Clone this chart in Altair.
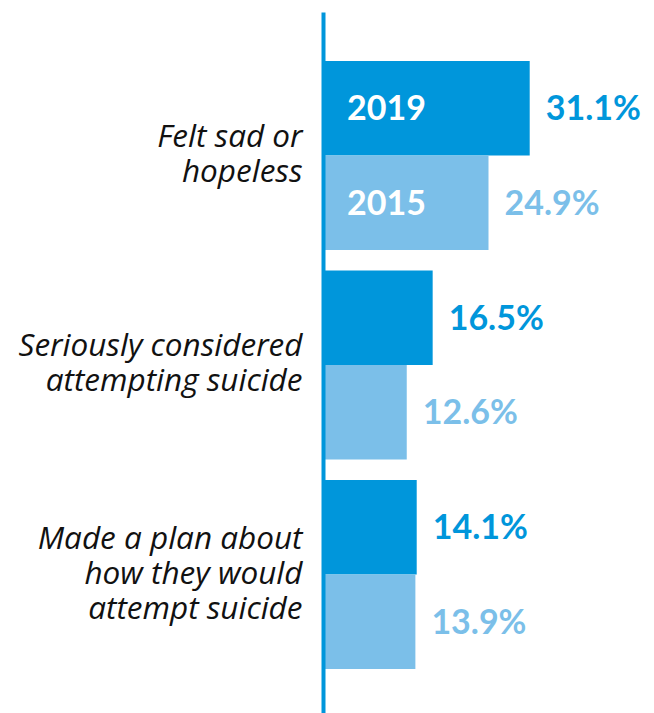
import altair as alt
import pandas as pd

categories = [
    "Felt sad or|hopeless",
    "Seriously considered|attempting suicide",
    "Made a plan about|how they would|attempt suicide",
]
years = ["2019", "2015"]
values_2019 = [31.1, 16.5, 14.1]
values_2015 = [24.9, 12.6, 13.9]
colors = ["#0096DB", "#7BBFE9"]

rows = []
for i, c in enumerate(categories):
    for yr, vals in (("2019", values_2019), ("2015", values_2015)):
        rows.append({
            "category": c,
            "year": yr,
            "value": vals[i],
            "label": f"{vals[i]:.1f}%",
            "first": i == 0,
        })
df = pd.DataFrame(rows)

FONT = "Lato"
LABEL_FONT = "Open Sans"

y = alt.Y(
    "category:N",
    sort=categories,
    scale=alt.Scale(paddingInner=0.098, paddingOuter=0.234),
    axis=alt.Axis(
        title=None,
        ticks=False,
        grid=False,
        domainColor="#0096DB",
        domainWidth=4,
        labelExpr="split(datum.label, '|')",
        labelFont=LABEL_FONT,
        labelFontStyle="italic",
        labelFontSize=31.5,
        labelColor="#111111",
        labelLineHeight=35,
        labelPadding=21,
        labelAlign="right",
        labelBaseline="middle",
        labelLimit=400,
        labelOffset={"condition": {"test": "indexof(datum.value, 'Made') == 0", "value": -34}, "value": -18},
        zindex=1,
    ),
)
yoff = alt.YOffset("year:N", sort=years, scale=alt.Scale(paddingInner=0, paddingOuter=0))
color = alt.Color("year:N", scale=alt.Scale(domain=years, range=colors), legend=None)
x = alt.X("value:Q", scale=alt.Scale(domain=[0, 49.8]), axis=None)

base = alt.Chart(df)

bars = base.mark_bar().encode(x=x, y=y, yOffset=yoff, color=color)

values = base.mark_text(
    align="left", baseline="middle", dx=16, dy=2, font=FONT, fontWeight="bold", fontSize=34
).encode(x=x, y=y, yOffset=yoff, text="label:N", color=color)

year_labels = base.transform_filter("datum.first").transform_calculate(
    zero="0"
).mark_text(
    align="left", baseline="middle", dx=24, dy=2, font=FONT, fontWeight="bold", fontSize=34, color="white"
).encode(
    x=alt.X("zero:Q", scale=alt.Scale(domain=[0, 49.8]), axis=None),
    y=y,
    yOffset=yoff,
    text="year:N",
)

chart = (
    alt.layer(bars, values, year_labels)
    .properties(
        width=331,
        height=706,
        autosize=alt.AutoSizeParams(type="none"),
        padding={"left": 323, "top": 12, "right": 0, "bottom": 0},
    )
    .configure_view(stroke=None)
)

chart.save("out.html", embed_options={"renderer": "svg", "actions": False})
